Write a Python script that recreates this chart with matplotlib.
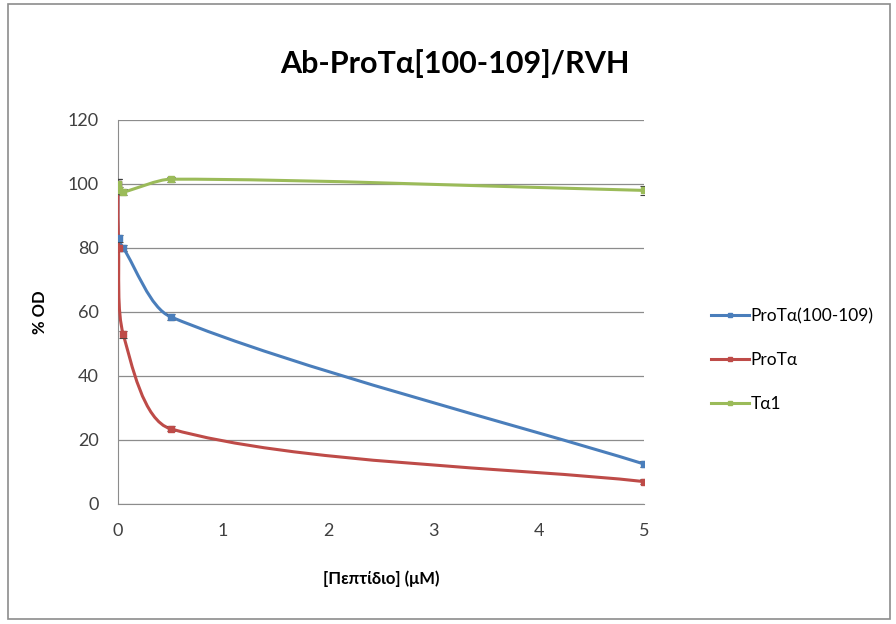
import matplotlib
matplotlib.use("Agg")
import matplotlib.pyplot as plt
from matplotlib.path import Path
from matplotlib.patches import PathPatch, Rectangle
from matplotlib.lines import Line2D
import numpy as np

plt.rcParams['font.family'] = ['Lato', 'DejaVu Sans']

# data
conc = [0, 0.005, 0.05, 0.5, 5]
pro_100_109 = [100, 83, 80, 58.5, 12.5]
pro_100_109_err = [1.5, 1.0, 1.0, 1.0, 1.0]
pro_ta = [100, 80, 53, 23.5, 7]
pro_ta_err = [1.5, 1.0, 1.0, 0.8, 0.8]
ta1 = [100, 98, 97.5, 101.5, 98]
ta1_err = [1.5, 1.0, 1.0, 0.8, 1.5]

names = ['ProTα(100-109)', 'ProTα', 'Tα1']
colors = ['#4A7EBB', '#BE4B48', '#9BBB59']
series = [pro_100_109, pro_ta, ta1]
errors = [pro_100_109_err, pro_ta_err, ta1_err]

# pixels per data unit, used to shape the smoothed line like excel does
SX = (644 - 118) / 5
SY = (504 - 120) / 120


def smooth_path(xs, ys, tension=0.27):
    # bezier segments through the points, tangents worked out in screen units
    p = np.column_stack([np.array(xs) * SX, np.array(ys) * SY])
    n = len(p)
    dirs = []
    for i in range(n):
        d = p[min(i + 1, n - 1)] - p[max(i - 1, 0)]
        dirs.append(d / np.hypot(*d))
    verts = [tuple(p[0])]
    codes = [Path.MOVETO]
    for i in range(n - 1):
        seg = np.hypot(*(p[i + 1] - p[i]))
        c1 = p[i] + dirs[i] * seg * tension
        c2 = p[i + 1] - dirs[i + 1] * seg * tension
        verts += [tuple(c1), tuple(c2), tuple(p[i + 1])]
        codes += [Path.CURVE4] * 3
    verts = [(vx / SX, vy / SY) for vx, vy in verts]
    return Path(verts, codes)


fig = plt.figure(figsize=(8.96, 6.24), dpi=100)
fig.patches.append(Rectangle((0.009, 0.008), 0.984, 0.985, transform=fig.transFigure,
                             fill=False, edgecolor='#8C8C8C', linewidth=1.2))

ax = fig.add_axes([118 / 896, 1 - 504 / 624, (644 - 118) / 896, (504 - 120) / 624])

for ys, es, c, name in zip(series, errors, colors, names):
    ax.add_patch(PathPatch(smooth_path(conc, ys), facecolor='none', edgecolor=c,
                           linewidth=2.2, zorder=3))
    ax.errorbar(conc, ys, yerr=es, fmt='none', ecolor='#404040', elinewidth=0.8,
                capsize=3, capthick=0.8, zorder=4)
    ax.plot(conc, ys, linestyle='none', marker='s', markersize=4, color=c, zorder=5)

ax.set_xlim(0, 5)
ax.set_ylim(0, 120)
ax.set_xticks(range(0, 6))
ax.set_yticks(range(0, 121, 20))
ax.yaxis.grid(True, color='#8C8C8C', linewidth=0.9)
ax.set_axisbelow(True)
for s in ['top', 'right']:
    ax.spines[s].set_visible(False)
for s in ['left', 'bottom']:
    ax.spines[s].set_color('#8C8C8C')
ax.tick_params(axis='both', length=0, labelsize=13, colors='#404040', pad=14)

ax.set_title('Ab-ProTα[100-109]/RVH', fontsize=22, fontweight='bold', pad=34, x=0.64)
ax.set_xlabel('[Πεπτίδιο] (μM)', fontsize=12, fontweight='bold', labelpad=22)
ax.set_ylabel('% OD', fontsize=12, fontweight='bold', labelpad=14)

handles = [Line2D([0], [0], color=c, linewidth=2.2, marker='s', markersize=3)
           for c in colors]
fig.legend(handles, names, loc='center left', bbox_to_anchor=(695 / 896, 1 - 360 / 624),
           frameon=False, fontsize=12.5, handlelength=2.2, labelspacing=1.6,
           handletextpad=0.1)

plt.savefig('out.png', dpi=100)
